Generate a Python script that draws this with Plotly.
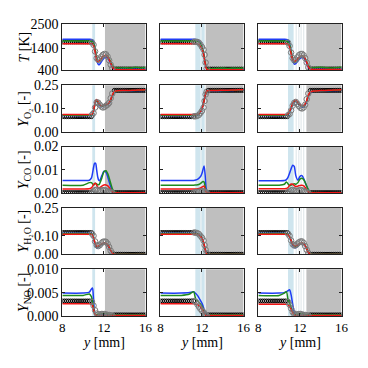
import plotly.graph_objects as go

# ---------------- data ----------------
XA = [8.0, 10.0, 10.6, 10.8, 10.9, 11.0, 11.1, 11.2, 11.3, 11.4, 11.5, 11.6, 11.8, 12.0, 12.2, 12.4, 12.6, 12.8, 13.0, 13.3, 14.0, 14.5, 15.0, 15.5, 16.0]
XB = [8.0, 10.0, 10.8, 11.0, 11.2, 11.4, 11.6, 11.8, 11.9, 12.0, 12.1, 12.2, 12.3, 12.4, 12.5, 12.7, 13.0, 13.5, 14.0, 14.5, 15.0, 15.5, 16.0]
XC = [8.0, 10.0, 10.5, 10.7, 10.85, 11.0, 11.15, 11.3, 11.45, 11.6, 11.8, 12.0, 12.2, 12.4, 12.6, 12.8, 13.0, 13.3, 14.0, 14.5, 15.0, 15.5, 16.0]

# column A
T_A_BLUE = [1800, 1800, 1800, 1795, 1780, 1700, 1500, 1200, 900, 720, 650, 680, 820, 950, 990, 930, 750, 560, 470, 450, 450, 450, 450, 450, 450]
T_A_GREEN = [1720, 1720, 1720, 1715, 1700, 1640, 1480, 1250, 1000, 840, 790, 820, 950, 1050, 1070, 1000, 820, 620, 520, 500, 520, 500, 540, 510, 530]
T_A_RED = [1600, 1600, 1600, 1595, 1580, 1520, 1350, 1100, 860, 780, 800, 860, 980, 1060, 1070, 980, 780, 560, 450, 430, 430, 430, 430, 430, 430]
O2_A_BLUE = [0.087, 0.087, 0.087, 0.088, 0.092, 0.110, 0.140, 0.160, 0.165, 0.157, 0.146, 0.139, 0.134, 0.139, 0.144, 0.148, 0.162, 0.192, 0.212, 0.218, 0.219, 0.220, 0.221, 0.222, 0.223]
O2_A_GREEN = [0.089, 0.089, 0.089, 0.090, 0.094, 0.110, 0.138, 0.160, 0.168, 0.161, 0.150, 0.143, 0.137, 0.140, 0.145, 0.149, 0.163, 0.193, 0.213, 0.219, 0.220, 0.221, 0.222, 0.223, 0.224]
O2_A_RED = [0.092, 0.092, 0.092, 0.093, 0.096, 0.112, 0.142, 0.165, 0.173, 0.166, 0.154, 0.146, 0.140, 0.143, 0.147, 0.151, 0.166, 0.196, 0.215, 0.220, 0.221, 0.222, 0.223, 0.224, 0.225]
CO_A_BLUE = [0.0054, 0.0054, 0.0055, 0.0065, 0.0085, 0.0110, 0.0128, 0.0128, 0.0100, 0.0070, 0.0055, 0.0054, 0.0075, 0.0094, 0.0090, 0.0065, 0.0035, 0.0012, 0.0003, 0.0001, 0.0001, 0.0001, 0.0001, 0.0001, 0.0001]
CO_A_GREEN = [0.0034, 0.0034, 0.0045, 0.0045, 0.0040, 0.0036, 0.0038, 0.0042, 0.0040, 0.0036, 0.0036, 0.0042, 0.0065, 0.0092, 0.0096, 0.0080, 0.0050, 0.0020, 0.0006, 0.0002, 0.0002, 0.0002, 0.0002, 0.0002, 0.0002]
CO_A_RED = [0.0018, 0.0018, 0.0019, 0.0022, 0.0028, 0.0036, 0.0042, 0.0042, 0.0034, 0.0026, 0.0022, 0.0024, 0.0030, 0.0035, 0.0035, 0.0030, 0.0018, 0.0007, 0.0002, 0.0001, 0.0001, 0.0001, 0.0001, 0.0001, 0.0001]
H2O_A_BLUE = [0.114, 0.114, 0.114, 0.113, 0.108, 0.090, 0.065, 0.045, 0.036, 0.035, 0.040, 0.046, 0.055, 0.060, 0.058, 0.045, 0.025, 0.008, 0.002, 0.0005, 0.0, 0.0, 0.0, 0.0, 0.0]
H2O_A_GREEN = [0.113, 0.113, 0.113, 0.112, 0.108, 0.093, 0.070, 0.050, 0.042, 0.040, 0.043, 0.048, 0.056, 0.061, 0.060, 0.048, 0.028, 0.010, 0.003, 0.001, 0.001, 0.001, 0.001, 0.001, 0.001]
H2O_A_RED = [0.109, 0.109, 0.109, 0.108, 0.104, 0.090, 0.070, 0.052, 0.045, 0.044, 0.046, 0.050, 0.058, 0.062, 0.060, 0.048, 0.028, 0.008, 0.001, 0.0, 0.0, 0.0, 0.0, 0.0, 0.0]
NO_A_BLUE = [0.0049, 0.0049, 0.0051, 0.0058, 0.0060, 0.0035, 0.0008, 0.0003, 0.0002, 0.0002, 0.0002, 0.0002, 0.0003, 0.0003, 0.0003, 0.0002, 0.0002, 0.0002, 0.0001, 0.0001, 0.0001, 0.0001, 0.0001, 0.0001, 0.0001]
NO_A_GREEN = [0.0044, 0.0044, 0.0047, 0.0041, 0.0032, 0.0018, 0.0006, 0.0003, 0.0003, 0.0003, 0.0004, 0.0004, 0.0005, 0.0005, 0.0005, 0.0004, 0.0003, 0.0002, 0.0002, 0.0002, 0.0002, 0.0002, 0.0002, 0.0002, 0.0002]
NO_A_RED = [0.0026, 0.0026, 0.0026, 0.0025, 0.0022, 0.0014, 0.0005, 0.0002, 0.0001, 0.0001, 0.0001, 0.0001, 0.0001, 0.0001, 0.0001, 0.0001, 0.0001, 0.0001, 0.0001, 0.0001, 0.0001, 0.0001, 0.0001, 0.0001, 0.0001]

GX_A = [10.85, 11.0, 11.15, 11.3, 11.45, 11.6, 11.75, 11.9, 12.05, 12.2, 12.35, 12.5, 12.65, 12.8]
T_A_GRAY = [1660, 1550, 1250, 950, 870, 920, 1020, 1100, 1140, 1120, 1020, 850, 650, 500]
O2_A_GRAY = [0.090, 0.100, 0.130, 0.158, 0.156, 0.145, 0.135, 0.130, 0.133, 0.140, 0.145, 0.155, 0.180, 0.205]
CO_A_GRAY = [0.0004, 0.0008, 0.0013, 0.0015, 0.0012, 0.0010, 0.0011, 0.0013, 0.0013, 0.0011, 0.0008, 0.0005, 0.0003, 0.0002]
H2O_A_GRAY = [0.112, 0.100, 0.070, 0.050, 0.045, 0.050, 0.060, 0.068, 0.070, 0.068, 0.058, 0.040, 0.020, 0.006]
NO_A_GRAY = [0.0030, 0.0022, 0.0012, 0.0005, 0.0003, 0.0003, 0.0004, 0.0004, 0.0004, 0.0003, 0.0002, 0.0002, 0.0001, 0.0001]

DOT_X_A = [8.0, 8.2, 8.4, 8.6, 8.8, 9.0, 9.2, 9.4, 9.6, 9.8, 10.0, 10.2, 10.4, 10.6, 10.8,
           13.0, 13.2, 13.4, 13.6, 13.8, 14.0, 14.2, 14.4, 14.6, 14.8, 15.0, 15.2, 15.4, 15.6, 15.8, 16.0]
T_A_DOT = [1680, 1680, 1680, 1680, 1680, 1680, 1680, 1680, 1680, 1680, 1680, 1680, 1680, 1680, 1680,
           460, 460, 460, 460, 460, 460, 460, 460, 460, 460, 460, 460, 460, 460, 460, 460]
O2_A_DOT = [0.081, 0.081, 0.081, 0.081, 0.081, 0.081, 0.081, 0.081, 0.081, 0.081, 0.081, 0.081, 0.081, 0.081, 0.081,
            0.222, 0.222, 0.222, 0.222, 0.222, 0.222, 0.222, 0.222, 0.222, 0.222, 0.222, 0.222, 0.222, 0.222, 0.222, 0.222]
CO_A_DOT = [0.0002, 0.0002, 0.0002, 0.0002, 0.0002, 0.0002, 0.0002, 0.0002, 0.0002, 0.0002, 0.0002, 0.0002, 0.0002, 0.0002, 0.0002,
            0.0002, 0.0002, 0.0002, 0.0002, 0.0002, 0.0002, 0.0002, 0.0002, 0.0002, 0.0002, 0.0002, 0.0002, 0.0002, 0.0002, 0.0002, 0.0002]
H2O_A_DOT = [0.118, 0.118, 0.118, 0.118, 0.118, 0.118, 0.118, 0.118, 0.118, 0.118, 0.118, 0.118, 0.118, 0.118, 0.118,
             0.001, 0.001, 0.001, 0.001, 0.001, 0.001, 0.001, 0.001, 0.001, 0.001, 0.001, 0.001, 0.001, 0.001, 0.001, 0.001]
NO_A_DOT = [0.0032, 0.0032, 0.0032, 0.0032, 0.0032, 0.0032, 0.0032, 0.0032, 0.0032, 0.0032, 0.0032, 0.0032, 0.0032, 0.0032, 0.0032,
            0.0002, 0.0002, 0.0002, 0.0002, 0.0002, 0.0002, 0.0002, 0.0002, 0.0002, 0.0002, 0.0002, 0.0002, 0.0002, 0.0002, 0.0002, 0.0002]

# column B
T_B_BLUE = [1800, 1800, 1800, 1800, 1798, 1790, 1760, 1680, 1600, 1480, 1300, 1050, 750, 530, 460, 450, 450, 450, 450, 450, 450, 450, 450]
T_B_GREEN = [1720, 1720, 1720, 1720, 1718, 1712, 1695, 1640, 1570, 1460, 1290, 1050, 760, 540, 480, 470, 480, 490, 500, 480, 500, 490, 500]
T_B_RED = [1600, 1600, 1600, 1600, 1600, 1595, 1580, 1520, 1450, 1350, 1230, 1000, 720, 500, 440, 430, 430, 430, 430, 430, 430, 430, 430]
O2_B_BLUE = [0.087, 0.087, 0.087, 0.087, 0.087, 0.088, 0.090, 0.100, 0.110, 0.125, 0.145, 0.170, 0.195, 0.212, 0.217, 0.219, 0.220, 0.220, 0.221, 0.221, 0.222, 0.223, 0.223]
O2_B_GREEN = [0.089, 0.089, 0.089, 0.089, 0.089, 0.090, 0.092, 0.101, 0.111, 0.125, 0.143, 0.168, 0.194, 0.212, 0.218, 0.220, 0.221, 0.221, 0.222, 0.222, 0.223, 0.224, 0.224]
O2_B_RED = [0.092, 0.092, 0.092, 0.092, 0.092, 0.093, 0.095, 0.103, 0.112, 0.125, 0.140, 0.165, 0.192, 0.212, 0.219, 0.221, 0.222, 0.222, 0.223, 0.223, 0.224, 0.225, 0.226]
CO_B_BLUE = [0.0054, 0.0054, 0.0054, 0.0054, 0.0054, 0.0056, 0.0060, 0.0068, 0.0074, 0.0085, 0.0102, 0.0116, 0.0080, 0.0020, 0.0003, 0.0001, 0.0001, 0.0001, 0.0001, 0.0001, 0.0001, 0.0001, 0.0001]
CO_B_GREEN = [0.0034, 0.0034, 0.0034, 0.0034, 0.0034, 0.0035, 0.0036, 0.0040, 0.0043, 0.0047, 0.0050, 0.0048, 0.0028, 0.0008, 0.0002, 0.0002, 0.0002, 0.0002, 0.0002, 0.0002, 0.0002, 0.0002, 0.0002]
CO_B_RED = [0.0018, 0.0018, 0.0018, 0.0018, 0.0018, 0.0018, 0.0019, 0.0021, 0.0023, 0.0026, 0.0029, 0.0030, 0.0018, 0.0005, 0.0001, 0.0001, 0.0001, 0.0001, 0.0001, 0.0001, 0.0001, 0.0001, 0.0001]
H2O_B_BLUE = [0.114, 0.114, 0.114, 0.114, 0.114, 0.114, 0.112, 0.104, 0.097, 0.087, 0.072, 0.052, 0.028, 0.008, 0.002, 0.0005, 0.0, 0.0, 0.0, 0.0, 0.0, 0.0, 0.0]
H2O_B_GREEN = [0.113, 0.113, 0.113, 0.113, 0.113, 0.113, 0.111, 0.104, 0.097, 0.088, 0.073, 0.053, 0.029, 0.009, 0.003, 0.001, 0.001, 0.001, 0.001, 0.001, 0.001, 0.001, 0.001]
H2O_B_RED = [0.109, 0.109, 0.109, 0.109, 0.109, 0.109, 0.107, 0.100, 0.094, 0.086, 0.075, 0.055, 0.030, 0.008, 0.001, 0.0, 0.0, 0.0, 0.0, 0.0, 0.0, 0.0, 0.0]
NO_B_BLUE = [0.0049, 0.0049, 0.0050, 0.0051, 0.0052, 0.0048, 0.0043, 0.0035, 0.0031, 0.0027, 0.0021, 0.0014, 0.0006, 0.0001, 0.0001, 0.0001, 0.0001, 0.0001, 0.0001, 0.0001, 0.0001, 0.0001, 0.0001]
NO_B_GREEN = [0.0044, 0.0044, 0.0047, 0.0050, 0.0052, 0.0036, 0.0032, 0.0027, 0.0024, 0.0021, 0.0016, 0.0010, 0.0004, 0.0001, 0.0001, 0.0002, 0.0002, 0.0002, 0.0002, 0.0002, 0.0002, 0.0002, 0.0002]
NO_B_RED = [0.0026, 0.0026, 0.0026, 0.0026, 0.0026, 0.0025, 0.0024, 0.0020, 0.0017, 0.0014, 0.0010, 0.0006, 0.0002, 0.0001, 0.0001, 0.0001, 0.0001, 0.0001, 0.0001, 0.0001, 0.0001, 0.0001, 0.0001]

GX_B = [11.25, 11.4, 11.55, 11.7, 11.85, 12.0, 12.15, 12.25, 12.35, 12.45]
T_B_GRAY = [1690, 1690, 1680, 1650, 1560, 1450, 1330, 1100, 750, 480]
O2_B_GRAY = [0.083, 0.083, 0.085, 0.090, 0.100, 0.112, 0.130, 0.165, 0.200, 0.215]
CO_B_GRAY = [0.0003, 0.0004, 0.0005, 0.0006, 0.0007, 0.0008, 0.0008, 0.0006, 0.0003, 0.0002]
H2O_B_GRAY = [0.118, 0.117, 0.115, 0.110, 0.100, 0.090, 0.075, 0.050, 0.025, 0.006]
NO_B_GRAY = [0.0032, 0.0030, 0.0025, 0.0020, 0.0015, 0.0011, 0.0008, 0.0004, 0.0002, 0.0001]

DOT_X_B = [8.0, 8.2, 8.4, 8.6, 8.8, 9.0, 9.2, 9.4, 9.6, 9.8, 10.0, 10.2, 10.4, 10.6, 10.8, 11.0, 11.2,
           12.6, 12.8, 13.0, 13.2, 13.4, 13.6, 13.8, 14.0, 14.2, 14.4, 14.6, 14.8, 15.0, 15.2, 15.4, 15.6, 15.8, 16.0]
T_B_DOT = [1680, 1680, 1680, 1680, 1680, 1680, 1680, 1680, 1680, 1680, 1680, 1680, 1680, 1680, 1680, 1680, 1680,
           455, 455, 455, 455, 455, 455, 455, 455, 455, 455, 455, 455, 455, 455, 455, 455, 455, 455]
O2_B_DOT = [0.081, 0.081, 0.081, 0.081, 0.081, 0.081, 0.081, 0.081, 0.081, 0.081, 0.081, 0.081, 0.081, 0.081, 0.081, 0.081, 0.081,
            0.222, 0.222, 0.222, 0.222, 0.222, 0.222, 0.222, 0.222, 0.222, 0.222, 0.222, 0.222, 0.222, 0.222, 0.222, 0.222, 0.222, 0.222]
CO_B_DOT = [0.0002, 0.0002, 0.0002, 0.0002, 0.0002, 0.0002, 0.0002, 0.0002, 0.0002, 0.0002, 0.0002, 0.0002, 0.0002, 0.0002, 0.0002, 0.0002, 0.0002,
            0.0002, 0.0002, 0.0002, 0.0002, 0.0002, 0.0002, 0.0002, 0.0002, 0.0002, 0.0002, 0.0002, 0.0002, 0.0002, 0.0002, 0.0002, 0.0002, 0.0002, 0.0002]
H2O_B_DOT = [0.118, 0.118, 0.118, 0.118, 0.118, 0.118, 0.118, 0.118, 0.118, 0.118, 0.118, 0.118, 0.118, 0.118, 0.118, 0.118, 0.118,
             0.001, 0.001, 0.001, 0.001, 0.001, 0.001, 0.001, 0.001, 0.001, 0.001, 0.001, 0.001, 0.001, 0.001, 0.001, 0.001, 0.001, 0.001]
NO_B_DOT = [0.0032, 0.0032, 0.0032, 0.0032, 0.0032, 0.0032, 0.0032, 0.0032, 0.0032, 0.0032, 0.0032, 0.0032, 0.0032, 0.0032, 0.0032, 0.0032, 0.0032,
            0.0002, 0.0002, 0.0002, 0.0002, 0.0002, 0.0002, 0.0002, 0.0002, 0.0002, 0.0002, 0.0002, 0.0002, 0.0002, 0.0002, 0.0002, 0.0002, 0.0002, 0.0002]

# column C
T_C_BLUE = [1800, 1800, 1800, 1795, 1770, 1600, 1250, 870, 680, 700, 820, 930, 980, 950, 780, 550, 470, 450, 450, 450, 450, 450, 450]
T_C_GREEN = [1720, 1720, 1720, 1715, 1695, 1560, 1250, 920, 770, 780, 880, 990, 1040, 1000, 840, 620, 520, 520, 540, 520, 500, 520, 540]
T_C_RED = [1600, 1600, 1600, 1595, 1575, 1450, 1150, 880, 810, 840, 930, 1020, 1050, 1000, 820, 570, 460, 440, 440, 440, 440, 440, 440]
O2_C_BLUE = [0.087, 0.087, 0.087, 0.088, 0.091, 0.103, 0.125, 0.147, 0.160, 0.163, 0.152, 0.140, 0.132, 0.136, 0.155, 0.190, 0.210, 0.217, 0.219, 0.220, 0.221, 0.222, 0.223]
O2_C_GREEN = [0.089, 0.089, 0.089, 0.090, 0.093, 0.105, 0.128, 0.150, 0.163, 0.166, 0.155, 0.143, 0.135, 0.139, 0.158, 0.192, 0.212, 0.218, 0.220, 0.221, 0.222, 0.223, 0.224]
O2_C_RED = [0.092, 0.092, 0.092, 0.093, 0.096, 0.108, 0.130, 0.152, 0.166, 0.169, 0.158, 0.146, 0.138, 0.142, 0.160, 0.195, 0.213, 0.219, 0.221, 0.222, 0.223, 0.224, 0.225]
CO_C_BLUE = [0.0053, 0.0053, 0.0054, 0.0058, 0.0068, 0.0085, 0.0105, 0.0120, 0.0115, 0.0075, 0.0055, 0.0072, 0.0075, 0.0058, 0.0035, 0.0015, 0.0003, 0.0001, 0.0001, 0.0001, 0.0001, 0.0001, 0.0001]
CO_C_GREEN = [0.0034, 0.0034, 0.0038, 0.0048, 0.0040, 0.0033, 0.0034, 0.0037, 0.0040, 0.0038, 0.0045, 0.0060, 0.0064, 0.0055, 0.0035, 0.0015, 0.0004, 0.0002, 0.0002, 0.0002, 0.0002, 0.0002, 0.0002]
CO_C_RED = [0.0019, 0.0019, 0.0019, 0.0020, 0.0024, 0.0033, 0.0039, 0.0038, 0.0032, 0.0028, 0.0030, 0.0033, 0.0034, 0.0030, 0.0018, 0.0007, 0.0002, 0.0001, 0.0001, 0.0001, 0.0001, 0.0001, 0.0001]
H2O_C_BLUE = [0.114, 0.114, 0.114, 0.113, 0.109, 0.095, 0.072, 0.050, 0.038, 0.036, 0.045, 0.055, 0.059, 0.054, 0.035, 0.012, 0.003, 0.001, 0.0, 0.0, 0.0, 0.0, 0.0]
H2O_C_GREEN = [0.113, 0.113, 0.113, 0.112, 0.108, 0.096, 0.075, 0.055, 0.044, 0.042, 0.048, 0.057, 0.061, 0.057, 0.038, 0.015, 0.004, 0.001, 0.001, 0.001, 0.001, 0.001, 0.001]
H2O_C_RED = [0.109, 0.109, 0.109, 0.108, 0.105, 0.094, 0.075, 0.057, 0.048, 0.047, 0.052, 0.059, 0.062, 0.056, 0.036, 0.012, 0.002, 0.0, 0.0, 0.0, 0.0, 0.0, 0.0]
NO_C_BLUE = [0.0049, 0.0049, 0.0050, 0.0052, 0.0054, 0.0056, 0.0045, 0.0025, 0.0008, 0.0002, 0.0002, 0.0002, 0.0002, 0.0002, 0.0002, 0.0002, 0.0002, 0.0001, 0.0001, 0.0001, 0.0001, 0.0001, 0.0001]
NO_C_GREEN = [0.0044, 0.0044, 0.0049, 0.0052, 0.0035, 0.0027, 0.0018, 0.0009, 0.0004, 0.0003, 0.0004, 0.0005, 0.0005, 0.0004, 0.0003, 0.0002, 0.0002, 0.0002, 0.0002, 0.0002, 0.0002, 0.0002, 0.0002]
NO_C_RED = [0.0025, 0.0025, 0.0025, 0.0025, 0.0024, 0.0020, 0.0014, 0.0007, 0.0002, 0.0001, 0.0001, 0.0001, 0.0001, 0.0001, 0.0001, 0.0001, 0.0001, 0.0001, 0.0001, 0.0001, 0.0001, 0.0001, 0.0001]

GX_C = [10.85, 11.0, 11.15, 11.3, 11.45, 11.6, 11.75, 11.9, 12.05, 12.2, 12.35, 12.5, 12.65, 12.8]
T_C_GRAY = [1650, 1500, 1200, 950, 850, 880, 980, 1080, 1130, 1140, 1080, 950, 750, 530]
O2_C_GRAY = [0.088, 0.095, 0.115, 0.140, 0.155, 0.160, 0.150, 0.138, 0.128, 0.125, 0.130, 0.145, 0.175, 0.205]
CO_C_GRAY = [0.0004, 0.0008, 0.0012, 0.0014, 0.0012, 0.0010, 0.0010, 0.0012, 0.0013, 0.0012, 0.0009, 0.0006, 0.0003, 0.0002]
H2O_C_GRAY = [0.112, 0.100, 0.075, 0.055, 0.048, 0.050, 0.058, 0.065, 0.070, 0.070, 0.062, 0.045, 0.025, 0.008]
NO_C_GRAY = [0.0030, 0.0024, 0.0016, 0.0008, 0.0004, 0.0003, 0.0003, 0.0004, 0.0004, 0.0003, 0.0002, 0.0002, 0.0001, 0.0001]

DOT_X_C = [8.0, 8.2, 8.4, 8.6, 8.8, 9.0, 9.2, 9.4, 9.6, 9.8, 10.0, 10.2, 10.4, 10.6, 10.8,
           13.0, 13.2, 13.4, 13.6, 13.8, 14.0, 14.2, 14.4, 14.6, 14.8, 15.0, 15.2, 15.4, 15.6, 15.8, 16.0]
T_C_DOT = [1680, 1680, 1680, 1680, 1680, 1680, 1680, 1680, 1680, 1680, 1680, 1680, 1680, 1680, 1680,
           460, 460, 460, 460, 460, 460, 460, 460, 460, 460, 460, 460, 460, 460, 460, 460]
O2_C_DOT = [0.081, 0.081, 0.081, 0.081, 0.081, 0.081, 0.081, 0.081, 0.081, 0.081, 0.081, 0.081, 0.081, 0.081, 0.081,
            0.222, 0.222, 0.222, 0.222, 0.222, 0.222, 0.222, 0.222, 0.222, 0.222, 0.222, 0.222, 0.222, 0.222, 0.222, 0.222]
CO_C_DOT = [0.0002, 0.0002, 0.0002, 0.0002, 0.0002, 0.0002, 0.0002, 0.0002, 0.0002, 0.0002, 0.0002, 0.0002, 0.0002, 0.0002, 0.0002,
            0.0002, 0.0002, 0.0002, 0.0002, 0.0002, 0.0002, 0.0002, 0.0002, 0.0002, 0.0002, 0.0002, 0.0002, 0.0002, 0.0002, 0.0002, 0.0002]
H2O_C_DOT = [0.118, 0.118, 0.118, 0.118, 0.118, 0.118, 0.118, 0.118, 0.118, 0.118, 0.118, 0.118, 0.118, 0.118, 0.118,
             0.001, 0.001, 0.001, 0.001, 0.001, 0.001, 0.001, 0.001, 0.001, 0.001, 0.001, 0.001, 0.001, 0.001, 0.001, 0.001]
NO_C_DOT = [0.0032, 0.0032, 0.0032, 0.0032, 0.0032, 0.0032, 0.0032, 0.0032, 0.0032, 0.0032, 0.0032, 0.0032, 0.0032, 0.0032, 0.0032,
            0.0002, 0.0002, 0.0002, 0.0002, 0.0002, 0.0002, 0.0002, 0.0002, 0.0002, 0.0002, 0.0002, 0.0002, 0.0002, 0.0002, 0.0002, 0.0002]

# shaded zones per column [start, end]
BAND_A, GRAYZ_A = [10.88, 11.15], [12.1, 16.0]
BAND_B, GRAYZ_B = [11.36, 12.26], [12.36, 16.0]
BAND_C, GRAYZ_C = [10.85, 11.39], [12.62, 16.0]
FAINT_B = [11.9]
FAINT_C = [11.64, 11.89, 12.11, 12.36]

X_TICKS = [8, 12, 16]
ROW_LABELS = ["<i>T</i> [K]", "<i>Y</i><sub>O₂</sub> [-]", "<i>Y</i><sub>CO</sub> [-]",
              "<i>Y</i><sub>H₂O</sub> [-]", "<i>Y</i><sub>NO</sub> [-]"]
ROW_RANGES = [[400, 2500], [0, 0.25], [0, 0.02], [0, 0.25], [0, 0.010]]
ROW_TICKVALS = [[400, 1400, 2500], [0, 0.125, 0.25], [0, 0.01, 0.02], [0, 0.10, 0.25], [0, 0.005, 0.010]]
ROW_TICKTEXT = [["400", "1400", "2500"], ["0.00", "0.10", "0.25"], ["0.00", "0.01", "0.02"],
                ["0.00", "0.10", "0.25"], ["0.000", "0.005", "0.010"]]

# ---------------- figure ----------------
W = H = 368
FONT = "Liberation Serif"
BLUE, GREEN, RED = "#1f3cf5", "#1e8a1e", "#f01414"

COLS = [
    dict(x=XA, gx=GX_A, dx=DOT_X_A, band=BAND_A, gz=GRAYZ_A, faint=[],
         rows=[(T_A_BLUE, T_A_GREEN, T_A_RED, T_A_GRAY, T_A_DOT),
               (O2_A_BLUE, O2_A_GREEN, O2_A_RED, O2_A_GRAY, O2_A_DOT),
               (CO_A_BLUE, CO_A_GREEN, CO_A_RED, CO_A_GRAY, CO_A_DOT),
               (H2O_A_BLUE, H2O_A_GREEN, H2O_A_RED, H2O_A_GRAY, H2O_A_DOT),
               (NO_A_BLUE, NO_A_GREEN, NO_A_RED, NO_A_GRAY, NO_A_DOT)]),
    dict(x=XB, gx=GX_B, dx=DOT_X_B, band=BAND_B, gz=GRAYZ_B, faint=FAINT_B,
         rows=[(T_B_BLUE, T_B_GREEN, T_B_RED, T_B_GRAY, T_B_DOT),
               (O2_B_BLUE, O2_B_GREEN, O2_B_RED, O2_B_GRAY, O2_B_DOT),
               (CO_B_BLUE, CO_B_GREEN, CO_B_RED, CO_B_GRAY, CO_B_DOT),
               (H2O_B_BLUE, H2O_B_GREEN, H2O_B_RED, H2O_B_GRAY, H2O_B_DOT),
               (NO_B_BLUE, NO_B_GREEN, NO_B_RED, NO_B_GRAY, NO_B_DOT)]),
    dict(x=XC, gx=GX_C, dx=DOT_X_C, band=BAND_C, gz=GRAYZ_C, faint=FAINT_C,
         rows=[(T_C_BLUE, T_C_GREEN, T_C_RED, T_C_GRAY, T_C_DOT),
               (O2_C_BLUE, O2_C_GREEN, O2_C_RED, O2_C_GRAY, O2_C_DOT),
               (CO_C_BLUE, CO_C_GREEN, CO_C_RED, CO_C_GRAY, CO_C_DOT),
               (H2O_C_BLUE, H2O_C_GREEN, H2O_C_RED, H2O_C_GRAY, H2O_C_DOT),
               (NO_C_BLUE, NO_C_GREEN, NO_C_RED, NO_C_GRAY, NO_C_DOT)]),
]

COL_PX = [(61, 146.5), (161.8, 247.3), (262.5, 348)]
ROW_PX = [(17.5, 66), (81.5, 130), (145.5, 194), (209.5, 258), (273.5, 322)]

fig = go.Figure()
layout = dict(width=W, height=H, margin=dict(l=0, r=0, t=0, b=0),
              paper_bgcolor="white", plot_bgcolor="white", showlegend=False,
              font=dict(family=FONT, size=13, color="black"))
shapes, annotations = [], []

for r in range(5):
    for c in range(3):
        k = r * 3 + c + 1
        sfx = "" if k == 1 else str(k)
        xa, ya = "x" + sfx, "y" + sfx
        col = COLS[c]
        blue, green, red, gray, dot = col["rows"][r]
        x0p, x1p = COL_PX[c]
        t, b = ROW_PX[r]
        layout["xaxis" + sfx] = dict(
            domain=[x0p / W, x1p / W], anchor=ya, range=[8, 16], tickvals=X_TICKS,
            showticklabels=(r == 4), ticks="inside", ticklen=3, tickcolor="#222",
            mirror="allticks", showline=True, linecolor="#222", linewidth=1,
            showgrid=False, zeroline=False, tickfont=dict(family=FONT, size=13))
        layout["yaxis" + sfx] = dict(
            domain=[1 - b / H, 1 - t / H], anchor=xa, range=ROW_RANGES[r],
            tickvals=ROW_TICKVALS[r], ticktext=ROW_TICKTEXT[r],
            showticklabels=(c == 0), ticks="inside", ticklen=3, tickcolor="#222",
            mirror="allticks", showline=True, linecolor="#222", linewidth=1,
            showgrid=False, zeroline=False, tickfont=dict(family=FONT, size=14))
        # shading
        shapes.append(dict(type="rect", xref=xa, yref=ya + " domain", x0=col["gz"][0], x1=col["gz"][1],
                           y0=0, y1=1, fillcolor="#bfbfbf", line=dict(width=0), layer="below"))
        shapes.append(dict(type="rect", xref=xa, yref=ya + " domain", x0=col["band"][0], x1=col["band"][1],
                           y0=0, y1=1, fillcolor="#cfe5ee", line=dict(width=0), layer="below"))
        for fx in col["faint"]:
            shapes.append(dict(type="line", xref=xa, yref=ya + " domain", x0=fx, x1=fx, y0=0, y1=1,
                               line=dict(color="#eef3f5" if c == 1 else "#e3e9ec", width=1.2), layer="below"))
        # black dense markers
        fig.add_trace(go.Scatter(x=col["dx"], y=dot, mode="markers", xaxis=xa, yaxis=ya, hoverinfo="skip",
                                 marker=dict(symbol="circle-open", size=4, color="black", line=dict(width=1))))
        # lines
        for yy, cc in ((blue, BLUE), (green, GREEN), (red, RED)):
            fig.add_trace(go.Scatter(x=col["x"], y=yy, mode="lines", xaxis=xa, yaxis=ya, hoverinfo="skip",
                                     line=dict(color=cc, width=1.5, shape="spline", smoothing=0.7)))
        # gray open markers in transition
        fig.add_trace(go.Scatter(x=col["gx"], y=gray, mode="markers", xaxis=xa, yaxis=ya, hoverinfo="skip",
                                 marker=dict(symbol="circle-open", size=5.5, color="#7a7a7a", line=dict(width=1))))

# y-axis titles
for r in range(5):
    t, b = ROW_PX[r]
    annotations.append(dict(text=ROW_LABELS[r], xref="paper", yref="paper", x=22 / W, y=1 - (t + b) / 2 / H,
                            showarrow=False, textangle=-90, xanchor="center", yanchor="middle",
                            font=dict(family=FONT, size=14)))
# x-axis titles
for c in range(3):
    x0p, x1p = COL_PX[c]
    annotations.append(dict(text="<i>y</i> [mm]", xref="paper", yref="paper", x=(x0p + x1p) / 2 / W,
                            y=1 - 350 / H, showarrow=False, xanchor="center", yanchor="middle",
                            font=dict(family=FONT, size=14)))

layout["shapes"] = shapes
layout["annotations"] = annotations
fig.update_layout(**layout)
fig.write_html("out.html", config={"displayModeBar": False, "staticPlot": True},
               post_script="document.body.style.margin='0';document.body.style.overflow='hidden';")
